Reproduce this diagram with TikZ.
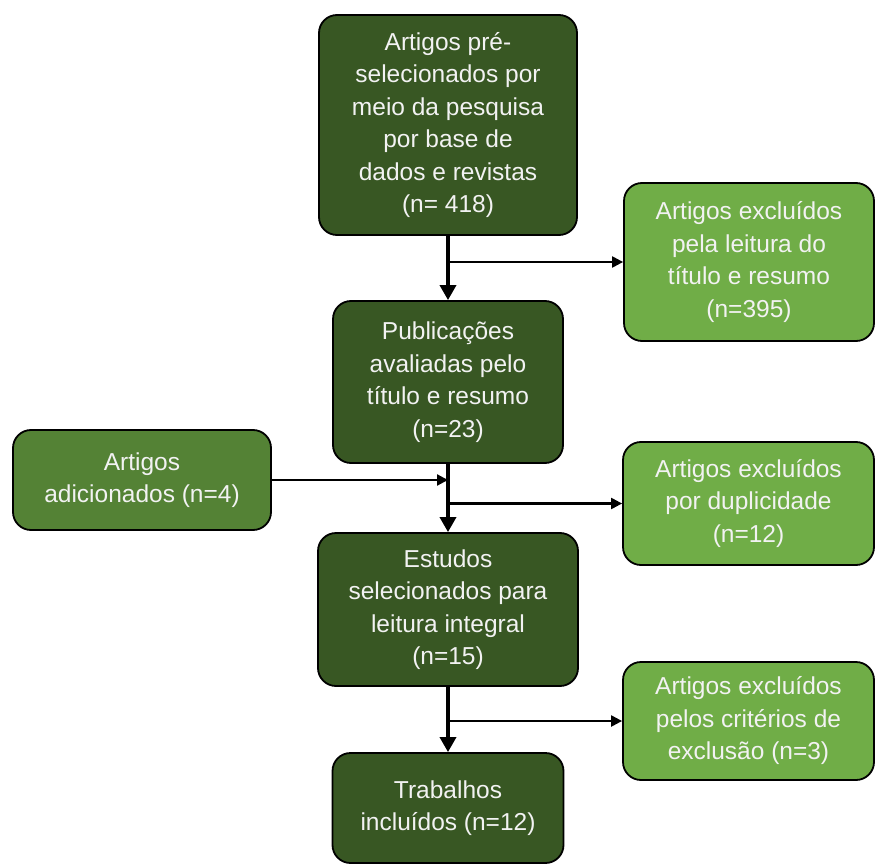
\documentclass[tikz,border=0pt]{standalone}
\usepackage{fontspec}
\setmainfont{Liberation Sans}
\usetikzlibrary{arrows.meta, positioning, calc}
\definecolor{FlowDark}{RGB}{56, 87, 35}
\definecolor{FlowMid}{RGB}{84, 130, 53}
\definecolor{FlowLight}{RGB}{112, 173, 71}
\definecolor{FlowText}{RGB}{242, 242, 242}

\begin{document}
\begin{tikzpicture}[x=1pt, y=-1pt,
    box/.style={draw=black, line width=1.8pt, rounded corners=18pt, align=center,
        text=FlowText, inner sep=0pt, font=\fontsize{24.5}{32.5}\selectfont},
    mainbox/.style={box, fill=FlowDark},
    sidebox/.style={box, fill=FlowLight},
    addbox/.style={box, fill=FlowMid},
    mainarrow/.style={line width=3.4pt, -{Triangle[width=16pt, length=15pt]}},
    sidearrow/.style={line width=2.2pt, -{Triangle[width=11pt, length=11pt]}}]
    \useasboundingbox (0,0) rectangle (876,864);
    % main column
    \node[mainbox, minimum width=258pt, minimum height=220pt] (dados) at (448,125)
        {Artigos pré-\\selecionados por\\meio da pesquisa\\por base de\\dados e revistas\\(n= 418)};
    \node[mainbox, minimum width=230pt, minimum height=162pt] (pub) at (448,382)
        {Publicações\\avaliadas pelo\\título e resumo\\(n=23)};
    \node[mainbox, minimum width=260pt, minimum height=153pt] (estudos) at (448,609.5)
        {Estudos\\selecionados para\\leitura integral\\(n=15)};
    \node[mainbox, minimum width=231pt, minimum height=110pt] (trab) at (448,808)
        {Trabalhos\\incluídos (n=12)};
    % side boxes
    \node[sidebox, minimum width=250pt, minimum height=158pt] (excl1) at (749,262)
        {Artigos excluídos\\pela leitura do\\título e resumo\\(n=395)};
    \node[sidebox, minimum width=251pt, minimum height=123pt] (excl2) at (748.5,503.5)
        {Artigos excluídos\\por duplicidade\\(n=12)};
    \node[sidebox, minimum width=251pt, minimum height=118pt] (excl3) at (748.5,721)
        {Artigos excluídos\\pelos critérios de\\exclusão (n=3)};
    \node[addbox, minimum width=258pt, minimum height=100pt] (add) at (142,480)
        {Artigos\\adicionados (n=4)};
    % connectors
    \draw[mainarrow] (dados.south) -- (pub.north);
    \draw[mainarrow] (pub.south) -- (estudos.north);
    \draw[mainarrow] (estudos.south) -- (trab.north);
    \draw[sidearrow] (dados.south |- excl1.west) -- (excl1.west);
    \draw[sidearrow] (pub.south |- excl2.west) -- (excl2.west);
    \draw[sidearrow] (estudos.south |- excl3.west) -- (excl3.west);
    \draw[sidearrow] (add.east) -- (add.east -| pub.south);
\end{tikzpicture}
\end{document}
